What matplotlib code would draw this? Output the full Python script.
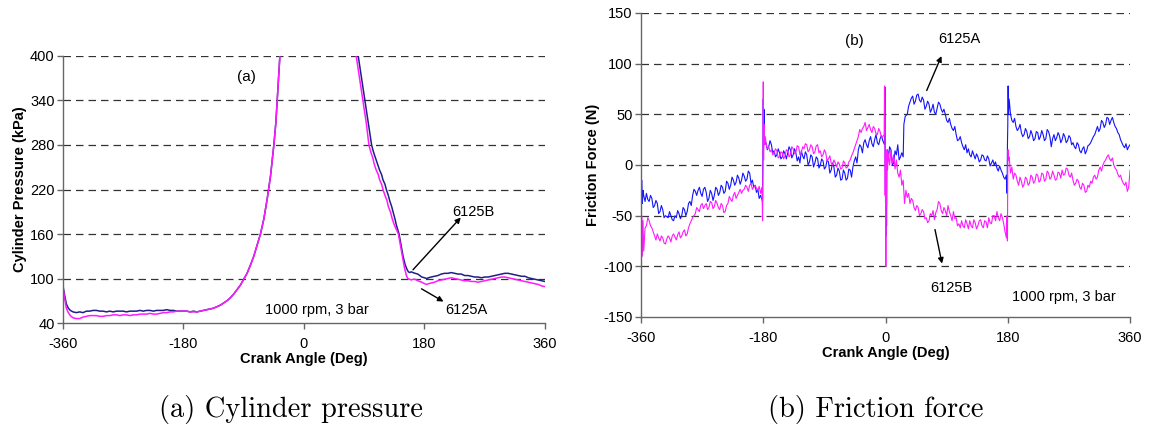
import numpy as np
import matplotlib
matplotlib.use("Agg")
import matplotlib.pyplot as plt

plt.rcParams['font.family'] = ['Liberation Sans', 'DejaVu Sans']
plt.rcParams['axes.unicode_minus'] = False

# ---- (a) cylinder pressure, kPa vs crank angle (deg) ----
# before TDC (both engines)
press_b_up = np.array([
    [-360, 90], [-358, 80], [-355, 66], [-352, 60], [-349, 57], [-345, 55], [-340, 54],
    [-335, 55], [-330, 54], [-325, 56], [-320, 56], [-315, 57], [-310, 57], [-305, 56],
    [-300, 56], [-295, 55], [-290, 56], [-285, 55], [-280, 56], [-275, 56], [-270, 56],
    [-265, 55], [-260, 56], [-255, 56], [-250, 56], [-245, 57], [-240, 56], [-235, 57],
    [-230, 57], [-225, 56], [-220, 57], [-215, 57], [-210, 57], [-205, 58], [-200, 57],
    [-195, 57], [-190, 56], [-185, 56], [-180, 56], [-175, 56], [-170, 55], [-165, 56],
    [-160, 55], [-155, 56], [-150, 57], [-145, 58], [-140, 59], [-135, 60], [-130, 62],
    [-125, 64], [-120, 67], [-115, 70], [-110, 74], [-105, 79], [-100, 85], [-95, 91],
    [-90, 99], [-85, 107], [-80, 118], [-75, 130], [-70, 145], [-65, 160], [-60, 180],
    [-55, 207], [-50, 238], [-45, 280], [-42, 310], [-40, 340], [-38, 370], [-36, 400],
    [-34, 430], [0, 700]])
press_a_up = np.array([
    [-360, 88], [-358, 76], [-355, 60], [-352, 54], [-349, 50], [-345, 47], [-340, 46],
    [-335, 46], [-330, 48], [-325, 49], [-320, 50], [-315, 50], [-310, 50], [-305, 49],
    [-300, 49], [-295, 50], [-290, 50], [-285, 51], [-280, 51], [-275, 50], [-270, 51],
    [-265, 51], [-260, 50], [-255, 51], [-250, 51], [-245, 52], [-240, 52], [-235, 52],
    [-230, 53], [-225, 52], [-220, 52], [-215, 53], [-210, 54], [-205, 54], [-200, 55],
    [-195, 55], [-190, 56], [-185, 56], [-180, 56], [-175, 56], [-170, 55], [-165, 55],
    [-160, 55], [-155, 56], [-150, 57], [-145, 58], [-140, 59], [-135, 60], [-130, 62],
    [-125, 64], [-120, 67], [-115, 70], [-110, 74], [-105, 79], [-100, 85], [-95, 91],
    [-90, 99], [-85, 107], [-80, 118], [-75, 130], [-70, 145], [-65, 160], [-60, 180],
    [-55, 207], [-50, 238], [-45, 280], [-42, 310], [-40, 340], [-38, 370], [-36, 400],
    [-34, 430], [0, 700]])
# after TDC
press_b_down = np.array([
    [0, 700], [77, 430], [81, 400], [86, 370], [91, 340], [96, 310], [101, 280],
    [104, 270], [107, 262], [110, 254], [113, 246], [116, 240], [118, 233], [121, 227],
    [123, 220], [126, 212], [128, 205], [131, 197], [133, 190], [136, 180], [138, 172],
    [142, 160], [145, 145], [148, 130], [151, 119], [154, 112], [156, 109], [158, 108],
    [160, 109], [163, 108], [166, 107], [170, 106], [173, 104], [176, 102], [180, 101],
    [183, 100], [186, 101], [190, 102], [195, 103], [200, 104], [205, 106], [210, 107],
    [215, 107], [220, 108], [225, 107], [230, 106], [235, 106], [240, 104], [245, 104],
    [250, 103], [255, 102], [260, 102], [265, 101], [270, 102], [275, 102], [280, 103],
    [285, 104], [290, 105], [295, 106], [300, 107], [305, 107], [310, 106], [315, 105],
    [320, 104], [325, 103], [330, 103], [335, 101], [340, 100], [345, 99], [350, 98],
    [355, 97], [360, 96]])
press_a_down = np.array([
    [0, 700], [74, 430], [78, 400], [83, 370], [88, 340], [93, 310], [97, 280],
    [100, 270], [103, 262], [105, 254], [108, 246], [111, 240], [113, 233], [116, 227],
    [118, 220], [121, 212], [124, 205], [126, 197], [129, 190], [132, 180], [135, 172],
    [141, 160], [144, 145], [147, 130], [150, 115], [153, 104], [155, 100], [158, 99],
    [160, 98], [163, 99], [166, 99], [170, 97], [173, 96], [176, 95], [180, 93],
    [183, 92], [186, 93], [190, 94], [195, 95], [200, 97], [205, 98], [210, 99],
    [215, 100], [220, 101], [225, 100], [230, 99], [235, 98], [240, 97], [245, 97],
    [250, 96], [255, 96], [260, 95], [265, 96], [270, 97], [275, 98], [280, 99],
    [285, 100], [290, 101], [295, 102], [300, 102], [305, 101], [310, 100], [315, 99],
    [320, 98], [325, 97], [330, 96], [335, 95], [340, 94], [345, 93], [350, 92],
    [355, 90], [360, 89]])

# ---- (b) friction force, N vs crank angle (deg) ----
force_a = np.array([
    [-360, 0], [-359.5, -40], [-359, -15], [-358, -38], [-357, -25], [-356, -30],
    [-354, -36], [-352, -28], [-350, -34], [-348, -36], [-346, -30], [-344, -33],
    [-342, -42], [-340, -40], [-338, -35], [-336, -38], [-334, -48], [-332, -46],
    [-330, -40], [-328, -44], [-326, -52], [-324, -50], [-320, -52], [-318, -46],
    [-316, -50], [-314, -54], [-312, -55], [-310, -50], [-308, -52], [-306, -45],
    [-304, -48], [-302, -53], [-300, -50], [-298, -42], [-296, -44], [-294, -50],
    [-292, -46], [-290, -38], [-288, -36], [-286, -40], [-284, -30], [-282, -24],
    [-280, -26], [-278, -30], [-276, -25], [-274, -22], [-272, -28], [-270, -31],
    [-268, -24], [-266, -22], [-264, -27], [-262, -36], [-260, -33], [-258, -25],
    [-256, -28], [-254, -35], [-252, -30], [-250, -22], [-248, -24], [-246, -30],
    [-244, -27], [-242, -20], [-240, -22], [-238, -28], [-236, -26], [-234, -16],
    [-232, -18], [-230, -24], [-228, -20], [-226, -12], [-224, -15], [-222, -20],
    [-220, -17], [-218, -10], [-216, -13], [-214, -19], [-212, -15], [-210, -8],
    [-208, -11], [-206, -16], [-204, -14], [-202, -6], [-200, -8], [-198, -18],
    [-196, -15], [-194, -22], [-192, -20], [-190, -27], [-188, -24], [-186, -33],
    [-184, -30], [-181, -36], [-180.5, 10], [-180, 65], [-179.5, 30], [-179, 55],
    [-178, 20], [-176, 22], [-174, 15], [-172, 18], [-170, 24], [-168, 20], [-166, 12],
    [-164, 14], [-162, 8], [-160, 10], [-158, 16], [-156, 12], [-154, 6], [-152, 8],
    [-150, 14], [-148, 11], [-146, 6], [-144, 12], [-142, 18], [-140, 15], [-138, 7],
    [-136, 10], [-134, 16], [-132, 12], [-130, 4], [-128, 8], [-126, 2], [-124, 14],
    [-122, 9], [-120, 6], [-118, 13], [-116, 10], [-114, 0], [-112, 3], [-110, 10],
    [-108, 8], [-106, -2], [-104, 2], [-102, 8], [-100, 6], [-98, -3], [-96, 0],
    [-94, 6], [-92, 4], [-90, -4], [-88, -2], [-86, 5], [-84, 3], [-82, -8],
    [-80, -5], [-78, 2], [-76, -2], [-74, -12], [-72, -10], [-70, -3], [-68, -6],
    [-66, -15], [-64, -14], [-62, -5], [-60, -8], [-58, -15], [-56, -13], [-54, -4],
    [-52, -5], [-50, -12], [-48, -2], [-46, 4], [-44, 8], [-42, 2], [-40, 15],
    [-38, 20], [-36, 18], [-34, 12], [-32, 22], [-30, 25], [-28, 20], [-26, 17],
    [-24, 24], [-22, 28], [-20, 21], [-18, 18], [-16, 25], [-14, 30], [-12, 22],
    [-10, 20], [-8, 26], [-6, 29], [-4, 24], [-1.5, 20], [-1, 77], [-0.5, 0],
    [0, -40], [0.5, -70], [1, 10], [1.5, -60], [2, 5], [3, 15], [4, 5], [6, 18],
    [8, 15], [10, 0], [12, 2], [14, 14], [16, 10], [18, 20], [20, 5], [22, 8],
    [24, 12], [26, 8], [27, 40], [29, 48], [32, 50], [34, 58], [36, 62], [38, 66],
    [40, 68], [42, 60], [44, 63], [46, 69], [48, 70], [50, 64], [52, 62], [54, 67],
    [56, 64], [58, 55], [60, 58], [62, 63], [64, 60], [66, 52], [68, 55], [70, 60],
    [72, 52], [74, 50], [76, 56], [78, 62], [80, 60], [82, 55], [84, 52], [86, 55],
    [88, 50], [90, 44], [92, 42], [94, 46], [96, 40], [98, 36], [100, 34], [102, 38],
    [104, 30], [106, 24], [108, 25], [110, 28], [112, 22], [114, 18], [116, 15],
    [118, 20], [120, 12], [122, 16], [124, 10], [126, 8], [128, 14], [130, 10],
    [132, 6], [134, 11], [136, 8], [138, 3], [140, 5], [142, 10], [144, 9], [146, 5],
    [148, 4], [150, 9], [152, 6], [154, -1], [156, 2], [158, 5], [160, 0], [162, 3],
    [164, -3], [166, -6], [168, -1], [170, -5], [172, -8], [174, -12], [176, -14],
    [178, -10], [179, -28], [179.5, 20], [180, 40], [180.5, 78], [181, 50], [182, 65],
    [184, 50], [186, 44], [188, 42], [190, 46], [192, 38], [194, 34], [196, 36],
    [198, 40], [200, 32], [202, 28], [204, 30], [206, 36], [208, 33], [210, 26],
    [212, 28], [214, 34], [216, 30], [218, 24], [220, 26], [222, 33], [224, 32],
    [226, 25], [228, 28], [230, 34], [232, 30], [234, 24], [236, 26], [238, 35],
    [240, 33], [242, 28], [244, 18], [246, 26], [248, 30], [250, 24], [252, 27],
    [254, 32], [256, 29], [258, 22], [260, 25], [262, 31], [264, 28], [266, 22],
    [268, 24], [270, 29], [272, 27], [274, 20], [276, 22], [278, 18], [280, 16],
    [282, 22], [284, 20], [286, 14], [288, 12], [290, 16], [292, 18], [294, 11],
    [296, 14], [298, 19], [300, 20], [302, 22], [304, 25], [306, 28], [308, 30],
    [310, 34], [312, 38], [314, 33], [316, 36], [318, 44], [320, 42], [322, 37],
    [324, 40], [326, 47], [328, 46], [330, 40], [332, 44], [334, 47], [336, 42],
    [338, 38], [340, 36], [342, 32], [344, 30], [346, 25], [348, 22], [350, 19],
    [352, 17], [354, 21], [356, 15], [358, 18], [360, 20]])
force_b = np.array([
    [-360, -35], [-359.5, -105], [-359, -50], [-358, -90], [-357, -55], [-356, -85],
    [-354, -62], [-352, -60], [-350, -52], [-348, -55], [-346, -60], [-344, -62],
    [-342, -66], [-340, -70], [-338, -74], [-336, -68], [-334, -72], [-332, -75],
    [-330, -70], [-328, -72], [-326, -77], [-324, -78], [-322, -73], [-320, -70],
    [-318, -72], [-316, -76], [-314, -70], [-312, -68], [-310, -71], [-308, -74],
    [-306, -69], [-304, -66], [-302, -72], [-300, -70], [-298, -66], [-296, -64],
    [-294, -70], [-292, -68], [-290, -62], [-288, -58], [-286, -55], [-284, -52],
    [-282, -50], [-280, -48], [-278, -42], [-276, -44], [-274, -46], [-272, -40],
    [-270, -38], [-268, -43], [-266, -40], [-264, -38], [-262, -44], [-260, -42],
    [-258, -36], [-256, -37], [-254, -43], [-252, -41], [-250, -35], [-248, -38],
    [-246, -42], [-244, -44], [-242, -38], [-240, -40], [-238, -47], [-236, -46],
    [-234, -40], [-232, -38], [-230, -31], [-228, -34], [-226, -36], [-224, -30],
    [-222, -27], [-220, -33], [-218, -30], [-216, -27], [-214, -24], [-212, -28],
    [-210, -25], [-208, -24], [-206, -20], [-204, -22], [-202, -26], [-200, -20],
    [-198, -18], [-196, -24], [-194, -22], [-192, -20], [-190, -23], [-188, -25],
    [-186, -21], [-184, -28], [-182, -22], [-181, -55], [-180.5, 0], [-180, 82],
    [-179.5, 5], [-179, 40], [-178, 20], [-177, 28], [-176, 22], [-174, 16],
    [-172, 18], [-170, 13], [-168, 15], [-166, 10], [-164, 12], [-162, 16], [-160, 14],
    [-158, 7], [-156, 8], [-154, 13], [-152, 12], [-150, 6], [-148, 9], [-146, 15],
    [-144, 14], [-142, 8], [-140, 10], [-138, 18], [-136, 16], [-134, 11], [-132, 13],
    [-130, 19], [-128, 18], [-126, 10], [-124, 12], [-122, 18], [-120, 16], [-118, 21],
    [-116, 20], [-114, 13], [-112, 15], [-110, 20], [-108, 18], [-106, 11], [-104, 13],
    [-102, 19], [-100, 20], [-98, 12], [-96, 14], [-94, 8], [-92, 10], [-90, 15],
    [-88, 12], [-86, 4], [-84, 6], [-82, 9], [-80, 2], [-78, 0], [-76, 5], [-74, 2],
    [-72, -2], [-70, 3], [-68, 1], [-66, -4], [-64, -3], [-62, 4], [-60, 2],
    [-58, -3], [-56, -2], [-54, 3], [-52, 5], [-50, 9], [-48, 12], [-46, 16],
    [-44, 20], [-42, 24], [-40, 28], [-38, 35], [-36, 32], [-34, 36], [-32, 38],
    [-30, 42], [-28, 34], [-26, 37], [-24, 40], [-22, 35], [-20, 32], [-18, 38],
    [-16, 36], [-14, 31], [-12, 30], [-10, 36], [-8, 33], [-6, 27], [-4, 28],
    [-2, 30], [-1.5, 78], [-1, 20], [-0.5, -30], [0, 10], [0.5, -100], [1, 5],
    [1.5, -40], [2, 15], [3, -5], [4, 12], [6, 0], [8, 14], [10, 2], [12, 10],
    [14, -4], [16, 5], [18, -8], [20, -12], [22, -5], [24, -20], [26, -15],
    [28, -38], [30, -25], [32, -32], [34, -28], [36, -38], [38, -33], [40, -35],
    [42, -42], [44, -45], [46, -40], [48, -42], [50, -50], [52, -48], [54, -44],
    [56, -46], [58, -53], [60, -52], [62, -57], [64, -55], [66, -48], [68, -50],
    [70, -45], [72, -54], [74, -47], [76, -44], [78, -36], [80, -38], [82, -45],
    [84, -48], [86, -42], [88, -45], [90, -50], [92, -40], [94, -46], [96, -50],
    [98, -55], [100, -46], [102, -53], [104, -52], [106, -60], [108, -58],
    [110, -62], [112, -55], [114, -60], [116, -62], [118, -54], [120, -58],
    [122, -63], [124, -55], [126, -60], [128, -62], [130, -54], [132, -57],
    [134, -63], [136, -60], [138, -55], [140, -54], [142, -60], [144, -62],
    [146, -55], [148, -56], [150, -62], [152, -52], [154, -57], [156, -58],
    [158, -50], [160, -50], [162, -55], [164, -46], [166, -52], [168, -55],
    [170, -48], [172, -52], [174, -58], [176, -66], [178, -72], [179, -50],
    [179.5, -75], [180, 0], [180.5, 15], [181, 5], [182, 8], [184, -8], [186, -2],
    [188, -14], [190, -8], [192, -10], [194, -16], [196, -20], [198, -12], [200, -16],
    [202, -22], [204, -19], [206, -12], [208, -14], [210, -20], [212, -18], [214, -10],
    [216, -12], [218, -18], [220, -16], [222, -9], [224, -10], [226, -17], [228, -15],
    [230, -8], [232, -9], [234, -16], [236, -14], [238, -6], [240, -8], [242, -14],
    [244, -12], [246, -6], [248, -10], [250, -15], [252, -14], [254, -7], [256, -8],
    [258, -13], [260, -5], [262, -10], [264, -9], [266, -3], [268, -4], [270, -10],
    [272, -12], [274, -8], [276, -15], [278, -20], [280, -18], [282, -14], [284, -16],
    [286, -22], [288, -24], [290, -18], [292, -20], [294, -27], [296, -26], [298, -20],
    [300, -22], [302, -16], [304, -18], [306, -12], [308, -10], [310, -14], [312, -12],
    [314, -5], [316, -2], [318, -6], [320, 0], [322, 3], [324, 5], [326, 8], [328, 10],
    [330, 6], [332, 4], [334, 7], [336, 0], [338, -3], [340, -5], [342, -9],
    [344, -12], [346, -10], [348, -15], [350, -18], [352, -20], [354, -17],
    [356, -26], [358, -22], [360, -5]])

x_ticks = [-360, -180, 0, 180, 360]
p_ticks = [40, 100, 160, 220, 280, 340, 400]
f_ticks = [-150, -100, -50, 0, 50, 100, 150]

navy = '#1f1f8a'
blue = '#1414ff'
magenta = '#ff1aff'

fig = plt.figure(figsize=(11.51, 4.30), dpi=100)
ax1 = fig.add_axes([0.0547, 0.2488, 0.4188, 0.6210])
ax2 = fig.add_axes([0.5569, 0.2628, 0.4249, 0.7070])


def style(ax, yticks, ylabel):
    ax.set_xlim(-360, 360)
    ax.set_ylim(yticks[0], yticks[-1])
    ax.set_xticks(x_ticks)
    ax.set_yticks(yticks)
    for y in yticks[1:]:
        ax.axhline(y, color='#333333', lw=0.9, ls=(0, (6, 4)), zorder=0)
    for s in ['top', 'right']:
        ax.spines[s].set_visible(False)
    for s in ['left', 'bottom']:
        ax.spines[s].set_color('#666666')
        ax.spines[s].set_linewidth(1.0)
    ax.tick_params(direction='out', length=4, width=1, color='#666666',
                   labelsize=10.5, pad=2)
    ax.tick_params(axis='x', pad=6)
    ax.set_xlabel('Crank Angle (Deg)', fontweight='bold', fontsize=10.5, labelpad=1)
    ax.set_ylabel(ylabel, fontweight='bold', fontsize=10.5, labelpad=2)
    ax.patch.set_visible(False)


# (a)
ax1.plot(press_b_up[:, 0], press_b_up[:, 1], color=navy, lw=1.1)
ax1.plot(press_b_down[:, 0], press_b_down[:, 1], color=navy, lw=1.1)
ax1.plot(press_a_up[:, 0], press_a_up[:, 1], color=magenta, lw=1.1)
ax1.plot(press_a_down[:, 0], press_a_down[:, 1], color=magenta, lw=1.1)
style(ax1, p_ticks, 'Cylinder Pressure (kPa)')
ax1.text(-100, 372, '(a)', fontsize=11, va='center')
ax1.text(-58, 57, '1000 rpm, 3 bar', fontsize=10.5, va='center')
ax1.annotate('', xy=(237, 185), xytext=(160, 109),
             arrowprops=dict(arrowstyle='-|>', color='black', lw=1, mutation_scale=8))
ax1.text(221, 190, '6125B', fontsize=10.5, va='center')
ax1.annotate('', xy=(212, 67), xytext=(172, 88),
             arrowprops=dict(arrowstyle='-|>', color='black', lw=1, mutation_scale=8))
ax1.text(211, 57, '6125A', fontsize=10.5, va='center')

# (b)
ax2.plot(force_a[:, 0], force_a[:, 1], color=blue, lw=0.8)
ax2.plot(force_b[:, 0], force_b[:, 1], color=magenta, lw=0.8)
style(ax2, f_ticks, 'Friction Force (N)')
ax2.text(-60, 122, '(b)', fontsize=11, va='center')
ax2.text(77, 124, '6125A', fontsize=10.5, va='center')
ax2.annotate('', xy=(84, 110), xytext=(59, 71),
             arrowprops=dict(arrowstyle='-|>', color='black', lw=1, mutation_scale=8))
ax2.annotate('', xy=(84, -100), xytext=(72, -61),
             arrowprops=dict(arrowstyle='-|>', color='black', lw=1, mutation_scale=8))
ax2.text(66, -121, '6125B', fontsize=10.5, va='center')
ax2.text(186, -130, '1000 rpm, 3 bar', fontsize=10.5, va='center')

fig.text(0.253, 0.047, '(a) Cylinder pressure', family='cmr10', fontsize=20.5,
         ha='center', va='center')
fig.text(0.761, 0.047, '(b) Friction force', family='cmr10', fontsize=20.5,
         ha='center', va='center')

fig.savefig('out.png', dpi=100)
